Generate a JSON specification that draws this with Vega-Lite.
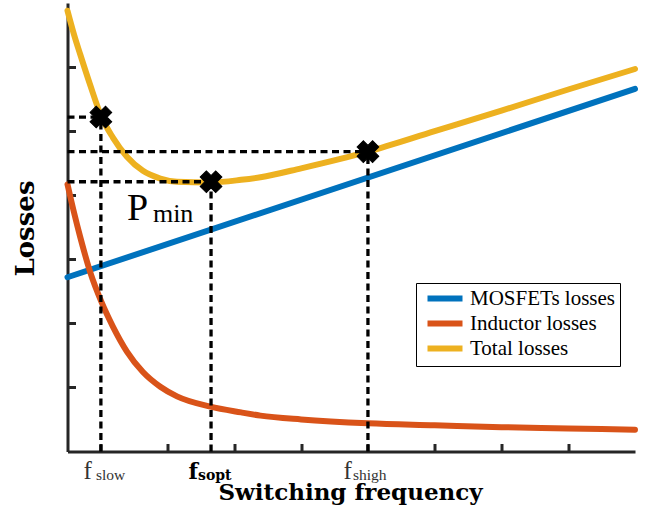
{
  "$schema": "https://vega.github.io/schema/vega-lite/v6.json",
  "width": 567.5,
  "height": 448.5,
  "autosize": {"type": "none"},
  "padding": {"left": 67.5, "top": 3, "right": 19, "bottom": 63.5},
  "background": "white",
  "config": {"view": {"stroke": null}, "font": "Liberation Serif"},
  "datasets": {
    "curves": [
      {"f": 0, "series": "MOSFETs losses", "loss": 2.72},
      {"f": 8.5, "series": "MOSFETs losses", "loss": 5.66},
      {"f": 0, "series": "Inductor losses", "loss": 4.17},
      {"f": 0.1, "series": "Inductor losses", "loss": 3.72},
      {"f": 0.19, "series": "Inductor losses", "loss": 3.35},
      {"f": 0.34, "series": "Inductor losses", "loss": 2.8},
      {"f": 0.51, "series": "Inductor losses", "loss": 2.33},
      {"f": 0.68, "series": "Inductor losses", "loss": 1.95},
      {"f": 0.89, "series": "Inductor losses", "loss": 1.56},
      {"f": 1.13, "series": "Inductor losses", "loss": 1.24},
      {"f": 1.39, "series": "Inductor losses", "loss": 1.01},
      {"f": 1.64, "series": "Inductor losses", "loss": 0.86},
      {"f": 2.14, "series": "Inductor losses", "loss": 0.7},
      {"f": 2.6, "series": "Inductor losses", "loss": 0.61},
      {"f": 2.89, "series": "Inductor losses", "loss": 0.56},
      {"f": 3.5, "series": "Inductor losses", "loss": 0.5},
      {"f": 4.5, "series": "Inductor losses", "loss": 0.44},
      {"f": 5.5, "series": "Inductor losses", "loss": 0.41},
      {"f": 6.5, "series": "Inductor losses", "loss": 0.38},
      {"f": 7.5, "series": "Inductor losses", "loss": 0.36},
      {"f": 8.5, "series": "Inductor losses", "loss": 0.34},
      {"f": 0, "series": "Total losses", "loss": 6.88},
      {"f": 0.1, "series": "Total losses", "loss": 6.5},
      {"f": 0.19, "series": "Total losses", "loss": 6.2},
      {"f": 0.34, "series": "Total losses", "loss": 5.72},
      {"f": 0.51, "series": "Total losses", "loss": 5.22},
      {"f": 0.68, "series": "Total losses", "loss": 4.9},
      {"f": 0.89, "series": "Total losses", "loss": 4.6},
      {"f": 1.13, "series": "Total losses", "loss": 4.38},
      {"f": 1.39, "series": "Total losses", "loss": 4.26},
      {"f": 1.64, "series": "Total losses", "loss": 4.21},
      {"f": 2.14, "series": "Total losses", "loss": 4.2},
      {"f": 2.6, "series": "Total losses", "loss": 4.24},
      {"f": 2.89, "series": "Total losses", "loss": 4.28},
      {"f": 3.5, "series": "Total losses", "loss": 4.42},
      {"f": 4.5, "series": "Total losses", "loss": 4.68},
      {"f": 5.5, "series": "Total losses", "loss": 5.0},
      {"f": 6.5, "series": "Total losses", "loss": 5.32},
      {"f": 7.5, "series": "Total losses", "loss": 5.65},
      {"f": 8.5, "series": "Total losses", "loss": 5.97}
    ],
    "markers": [
      {"name": "slow", "f": 0.5, "p": 5.22, "base": 0},
      {"name": "sopt", "f": 2.15, "p": 4.21, "base": 0},
      {"name": "shigh", "f": 4.5, "p": 4.68, "base": 0}
    ],
    "pmin": [{"main": "P", "sub": "min", "f": 0.89, "p": 3.62}]
  },
  "layer": [
    {
      "data": {"name": "curves"},
      "mark": {"type": "line", "strokeWidth": 6, "strokeCap": "round", "interpolate": "monotone"},
      "encoding": {
        "x": {
          "field": "f", "type": "quantitative",
          "scale": {"domain": [0, 8.5], "nice": false, "zero": false},
          "axis": {
            "title": "Switching frequency", "titleFont": "DejaVu Serif", "titleFontSize": 23, "titleFontWeight": "bold", "titleColor": "black",
            "titleX": 282.5, "titleY": 47.5, "titleBaseline": "alphabetic", "titleAlign": "center",
            "labels": false, "grid": false, "values": [0.5, 1.5, 2.5, 3.5, 4.5, 5.5, 6.5, 7.5],
            "domainWidth": 3, "domainColor": "#262626", "tickSize": -8, "tickWidth": 3, "tickColor": "#262626"
          }
        },
        "y": {
          "field": "loss", "type": "quantitative",
          "scale": {"domain": [0, 7], "nice": false, "zero": false},
          "axis": {
            "title": "Losses", "titleFont": "DejaVu Serif", "titleFontSize": 26, "titleFontWeight": "bold", "titleColor": "black",
            "titleX": -42, "titleY": 225, "titleBaseline": "middle", "titleAlign": "center", "titleAngle": -90,
            "labels": false, "grid": false, "values": [1, 2, 3, 4, 5, 6],
            "domainWidth": 3, "domainColor": "#262626", "tickSize": -8, "tickWidth": 3, "tickColor": "#262626"
          }
        },
        "color": {
          "field": "series", "type": "nominal",
          "scale": {"domain": ["MOSFETs losses", "Inductor losses", "Total losses"], "range": ["#0072BD", "#D95319", "#EDB120"]},
          "legend": {
            "title": null, "orient": "none", "legendX": 348.5, "legendY": 280,
            "symbolType": "M-2.5,0H2.5", "symbolStrokeWidth": 6, "symbolSize": 196, "symbolOffset": 13.5,
            "labelFont": "Liberation Serif", "labelFontSize": 21, "labelColor": "black", "labelOffset": 14.5, "labelLimit": 300,
            "strokeColor": "black", "fillColor": "white", "padding": 5, "rowPadding": 0
          }
        }
      }
    },
    {
      "data": {"name": "markers"},
      "mark": {"type": "rule", "color": "black", "strokeWidth": 3.3, "strokeDash": [7, 4.5]},
      "encoding": {
        "x": {"field": "base", "type": "quantitative"},
        "x2": {"field": "f"},
        "y": {"field": "p", "type": "quantitative"}
      }
    },
    {
      "data": {"name": "markers"},
      "mark": {"type": "rule", "color": "black", "strokeWidth": 3.3, "strokeDash": [7, 4.5]},
      "encoding": {
        "x": {"field": "f", "type": "quantitative"},
        "y": {"field": "base", "type": "quantitative"},
        "y2": {"field": "p"}
      }
    },
    {
      "data": {"name": "markers"},
      "mark": {"type": "point", "shape": "cross", "angle": 45, "filled": true, "color": "black", "size": 480, "opacity": 1, "stroke": "black", "strokeWidth": 1},
      "encoding": {
        "x": {"field": "f", "type": "quantitative"},
        "y": {"field": "p", "type": "quantitative"}
      }
    },
    {
      "data": {"name": "pmin"},
      "mark": {"type": "text", "align": "left", "baseline": "alphabetic", "font": "Liberation Serif", "fontSize": 38, "color": "black"},
      "encoding": {
        "x": {"field": "f", "type": "quantitative"},
        "y": {"field": "p", "type": "quantitative"},
        "text": {"field": "main"}
      }
    },
    {
      "data": {"name": "pmin"},
      "mark": {"type": "text", "align": "left", "baseline": "alphabetic", "font": "Liberation Serif", "fontSize": 26, "color": "black", "dx": 26, "dy": 2},
      "encoding": {
        "x": {"field": "f", "type": "quantitative"},
        "y": {"field": "p", "type": "quantitative"},
        "text": {"field": "sub"}
      }
    },
    {
      "data": {"name": "markers"},
      "transform": [{"filter": "datum.name === 'slow'"}],
      "mark": {"type": "text", "align": "right", "baseline": "alphabetic", "font": "Liberation Serif", "fontSize": 25, "color": "#333333", "dx": -9, "dy": 27.5, "text": "f"},
      "encoding": {
        "x": {"field": "f", "type": "quantitative"},
        "y": {"field": "base", "type": "quantitative"}
      }
    },
    {
      "data": {"name": "markers"},
      "transform": [{"filter": "datum.name === 'slow'"}],
      "mark": {"type": "text", "align": "left", "baseline": "alphabetic", "font": "Liberation Serif", "fontSize": 15.5, "color": "#333333", "dx": -5, "dy": 28.5},
      "encoding": {
        "x": {"field": "f", "type": "quantitative"},
        "y": {"field": "base", "type": "quantitative"},
        "text": {"field": "name"}
      }
    },
    {
      "data": {"name": "markers"},
      "transform": [{"filter": "datum.name === 'sopt'"}],
      "mark": {"type": "text", "align": "right", "baseline": "alphabetic", "font": "DejaVu Serif", "fontWeight": "bold", "fontSize": 22, "color": "black", "dx": -13, "dy": 27.5, "text": "f"},
      "encoding": {
        "x": {"field": "f", "type": "quantitative"},
        "y": {"field": "base", "type": "quantitative"}
      }
    },
    {
      "data": {"name": "markers"},
      "transform": [{"filter": "datum.name === 'sopt'"}],
      "mark": {"type": "text", "align": "left", "baseline": "alphabetic", "font": "DejaVu Serif", "fontWeight": "bold", "fontSize": 14, "color": "black", "dx": -13, "dy": 28.5},
      "encoding": {
        "x": {"field": "f", "type": "quantitative"},
        "y": {"field": "base", "type": "quantitative"},
        "text": {"field": "name"}
      }
    },
    {
      "data": {"name": "markers"},
      "transform": [{"filter": "datum.name === 'shigh'"}],
      "mark": {"type": "text", "align": "right", "baseline": "alphabetic", "font": "Liberation Serif", "fontSize": 25, "color": "#333333", "dx": -16, "dy": 27.5, "text": "f"},
      "encoding": {
        "x": {"field": "f", "type": "quantitative"},
        "y": {"field": "base", "type": "quantitative"}
      }
    },
    {
      "data": {"name": "markers"},
      "transform": [{"filter": "datum.name === 'shigh'"}],
      "mark": {"type": "text", "align": "left", "baseline": "alphabetic", "font": "Liberation Serif", "fontSize": 15.5, "color": "#333333", "dx": -15, "dy": 28.5},
      "encoding": {
        "x": {"field": "f", "type": "quantitative"},
        "y": {"field": "base", "type": "quantitative"},
        "text": {"field": "name"}
      }
    }
  ]
}
